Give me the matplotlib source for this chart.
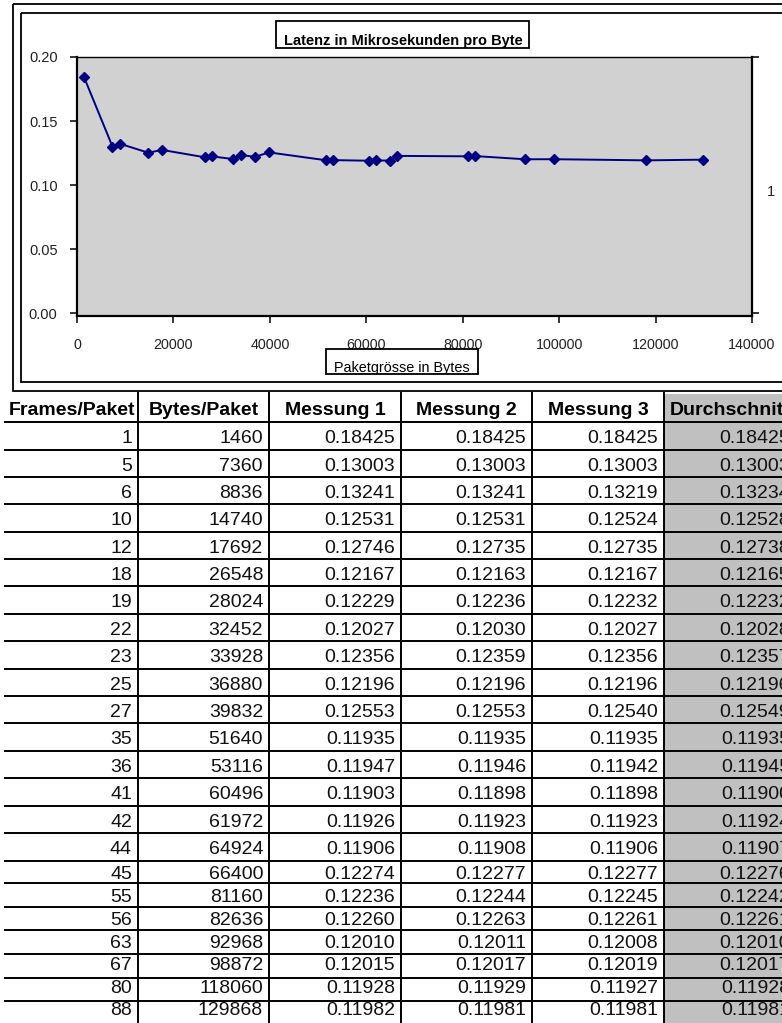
import matplotlib
matplotlib.use('Agg')
from matplotlib import pyplot as plt
from matplotlib import font_manager
from matplotlib.transforms import Affine2D
from matplotlib.patches import Rectangle
from matplotlib.lines import Line2D

frames = [1, 5, 6, 10, 12, 18, 19, 22, 23, 25, 27, 35, 36, 41, 42, 44, 45, 55, 56, 63, 67, 80, 88]
bytes_pkt = [1460, 7360, 8836, 14740, 17692, 26548, 28024, 32452, 33928, 36880, 39832, 51640,
             53116, 60496, 61972, 64924, 66400, 81160, 82636, 92968, 98872, 118060, 129868]
mess1 = [0.18425, 0.13003, 0.13241, 0.12531, 0.12746, 0.12167, 0.12229, 0.12027, 0.12356, 0.12196,
         0.12553, 0.11935, 0.11947, 0.11903, 0.11926, 0.11906, 0.12274, 0.12236, 0.12260, 0.12010,
         0.12015, 0.11928, 0.11982]
mess2 = [0.18425, 0.13003, 0.13241, 0.12531, 0.12735, 0.12163, 0.12236, 0.12030, 0.12359, 0.12196,
         0.12553, 0.11935, 0.11946, 0.11898, 0.11923, 0.11908, 0.12277, 0.12244, 0.12263, 0.12011,
         0.12017, 0.11929, 0.11981]
mess3 = [0.18425, 0.13003, 0.13219, 0.12524, 0.12735, 0.12167, 0.12232, 0.12027, 0.12356, 0.12196,
         0.12540, 0.11935, 0.11942, 0.11898, 0.11923, 0.11906, 0.12277, 0.12245, 0.12261, 0.12008,
         0.12019, 0.11927, 0.11981]
durchschnitt = [0.18425, 0.13003, 0.13234, 0.12528, 0.12738, 0.12165, 0.12232, 0.12028, 0.12357,
                0.12196, 0.12549, 0.11935, 0.11945, 0.11900, 0.11924, 0.11907, 0.12276, 0.12242,
                0.12261, 0.12010, 0.12017, 0.11928, 0.11981]
headers = ['Frames/Paket', 'Bytes/Paket', 'Messung 1', 'Messung 2', 'Messung 3', 'Durchschnitt']
x_ticks = [0, 20000, 40000, 60000, 80000, 100000, 120000, 140000]
y_ticks = [0.00, 0.05, 0.10, 0.15, 0.20]

W, H = 782, 1023
fig = plt.figure(figsize=(W / 100, H / 100), dpi=100)
# pixel coordinates, origin top left
px = Affine2D().scale(1 / W, -1 / H).translate(0, 1) + fig.transFigure

names = {f.name for f in font_manager.fontManager.ttflist}
base = 'Liberation Sans'
narrow = 'Liberation Sans Narrow' if 'Liberation Sans Narrow' in names else None

#Chart
ax = fig.add_axes([77 / W, 1 - 316 / H, (752 - 77) / W, (316 - 57) / H])
ax.set_facecolor('#d1d1d1')
ax.plot(bytes_pkt, durchschnitt, color='#000080', lw=1.4, marker='D', ms=5.6,
        mec='#000080', mfc='#000080', zorder=3)
ax.set_xlim(0, 140000)
ax.set_ylim(-0.0023, 0.2)
ax.set_xticks(x_ticks)
ax.set_xticklabels([str(t) for t in x_ticks], family=base, fontsize=10.3, color='#222222')
ax.set_yticks(y_ticks)
ax.set_yticklabels(['%.2f' % t for t in y_ticks], family=base, fontsize=10.5, color='#222222')
ax.tick_params(axis='y', direction='out', length=5, width=1.1, pad=9)
ax.tick_params(axis='x', direction='out', length=5, width=1.1, pad=11)
for s in ['left', 'bottom', 'right']:
    ax.spines[s].set_linewidth(1.6)
ax.spines['top'].set_linewidth(1.0)

ax2 = ax.twinx()
ax2.set_ylim(ax.get_ylim())
ax2.set_yticks([0.0, 0.2])
ax2.set_yticklabels(['', ''])
ax2.tick_params(axis='y', direction='out', length=5, width=1.1)
for s in ax2.spines.values():
    s.set_visible(False)

fig.text(771, 192, '1', transform=px, family=base, fontsize=10.5, ha='center', va='center',
         color='#222222')

# chart frame (double line, runs off the right edge)
fig.add_artist(Rectangle((13, 4), 900, 387, transform=px, fill=False, lw=1.3, ec='black'))
fig.add_artist(Rectangle((21, 13), 900, 369, transform=px, fill=False, lw=1.3, ec='black'))

# title and axis label boxes
tbox = Rectangle((276, 21), 253, 27, transform=px, fc='white', ec='black', lw=1.3, zorder=4)
fig.add_artist(tbox)
t = fig.text(284, 45.5, 'Latenz in Mikrosekunden pro Byte', transform=px, family=base,
             fontsize=10.5, weight='bold', ha='left', va='baseline', zorder=5)
t.set_clip_path(tbox)

xbox = Rectangle((326, 349), 152, 25, transform=px, fc='white', ec='black', lw=1.3, zorder=4)
fig.add_artist(xbox)
t = fig.text(334, 372, 'Paketgrösse in Bytes', transform=px, family=base, fontsize=10.4,
             ha='left', va='baseline', zorder=5)
t.set_clip_path(xbox)

#Table
col_edges = [5, 138, 269, 401, 532, 664, 796]
row_tops = [422, 450, 477, 504, 532, 559, 586, 614, 641, 669, 696, 723, 751, 778, 806, 833,
            861, 883, 907, 930, 954, 978, 1001]
row_base = [21] * 16 + [18, 19, 18, 18, 16, 15, 14]

fig.add_artist(Rectangle((664, 394), 200, 700, transform=px, fc='#c0c0c0', ec='none', zorder=0.5))

for x in col_edges[1:-1]:
    fig.add_artist(Line2D([x, x], [393, H], transform=px, color='black', lw=1.4))
for y in row_tops:
    fig.add_artist(Line2D([5, W + 10], [y, y], transform=px, color='black', lw=1.4))

for i, h in enumerate(headers):
    cx = (col_edges[i] + col_edges[i + 1]) / 2
    fig.text(cx, 415, h, transform=px, family=base, fontsize=14, weight='bold',
             ha='center', va='baseline')

columns = [[str(v) for v in frames], [str(v) for v in bytes_pkt],
           ['%.5f' % v for v in mess1], ['%.5f' % v for v in mess2],
           ['%.5f' % v for v in mess3], ['%.5f' % v for v in durchschnitt]]
for r, top in enumerate(row_tops):
    tall = r < 16
    if tall and narrow:
        fam, fs = narrow, 17.3
    else:
        fam, fs = base, 14
    for c, col in enumerate(columns):
        fig.text(col_edges[c + 1] - 6, top + row_base[r], col[r], transform=px, family=fam,
                 fontsize=fs, ha='right', va='baseline', color='#111111')

fig.savefig('out.png', dpi=100)
